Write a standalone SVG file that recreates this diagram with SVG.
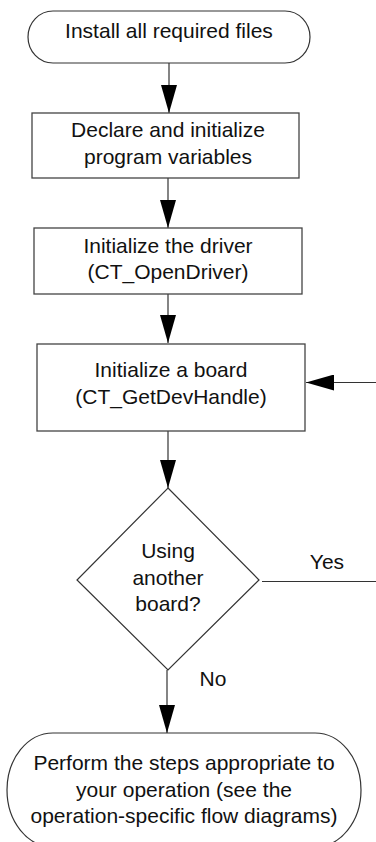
<svg xmlns="http://www.w3.org/2000/svg" width="376" height="842" viewBox="0 0 376 842">
  <style>
    .shape { fill: #ffffff; stroke: #333333; stroke-width: 1.2; }
    .box { fill: #ffffff; stroke: #444444; stroke-width: 1.3; }
    .line { fill: none; stroke: #333333; stroke-width: 1.2; }
    .label { font-family: "Liberation Sans", Arial, Helvetica, sans-serif; font-size: 21px; fill: #111111; text-anchor: middle; }
  </style>
  <defs>
    <marker id="arrowhead" viewBox="0 0 28 16" refX="28" refY="8" markerWidth="28" markerHeight="16" markerUnits="userSpaceOnUse" orient="auto">
      <path d="M0,0 L28,8 L0,16 Z" fill="#000000"/>
    </marker>
  </defs>
  <rect width="376" height="842" fill="#ffffff"/>

  <g id="connectors">
    <line class="line" x1="169" y1="63" x2="169" y2="113" marker-end="url(#arrowhead)"/>
    <line class="line" x1="168" y1="178" x2="168" y2="228" marker-end="url(#arrowhead)"/>
    <line class="line" x1="168" y1="294" x2="168" y2="343" marker-end="url(#arrowhead)"/>
    <line class="line" x1="168" y1="431" x2="168" y2="488" marker-end="url(#arrowhead)"/>
    <line class="line" x1="167" y1="670" x2="167" y2="733" marker-end="url(#arrowhead)"/>
    <!-- "Yes" branch leaves to the right; the return enters the board step from the right -->
    <line class="line" x1="262" y1="581.5" x2="376" y2="581.5"/>
    <line class="line" x1="376" y1="382.5" x2="306" y2="382.5" marker-end="url(#arrowhead)"/>
    <text class="label" x="327" y="569">Yes</text>
    <text class="label" x="213" y="686">No</text>
  </g>

  <g id="install-files">
    <rect class="shape" x="28" y="11" width="282" height="52" rx="25" ry="26"/>
    <text class="label" x="169" y="38">Install all required files</text>
  </g>

  <g id="declare-variables">
    <rect class="box" x="32" y="113" width="267" height="65"/>
    <text class="label" x="168" y="137">Declare and initialize</text>
    <text class="label" x="168" y="164">program variables</text>
  </g>

  <g id="open-driver">
    <rect class="box" x="34" y="228" width="268" height="66"/>
    <text class="label" x="168" y="253">Initialize the driver</text>
    <text class="label" x="168" y="279">(CT_OpenDriver)</text>
  </g>

  <g id="get-dev-handle">
    <rect class="box" x="37" y="344" width="268" height="87"/>
    <text class="label" x="171" y="377">Initialize a board</text>
    <text class="label" x="171" y="404">(CT_GetDevHandle)</text>
  </g>

  <g id="another-board">
    <polygon class="shape" points="168,488 259,580 168,670 77,580"/>
    <text class="label" x="168" y="558">Using</text>
    <text class="label" x="168" y="585">another</text>
    <text class="label" x="168" y="611">board?</text>
  </g>

  <g id="perform-steps">
    <rect class="shape" x="7" y="733" width="354" height="114" rx="46" ry="57"/>
    <text class="label" x="184" y="770">Perform the steps appropriate to</text>
    <text class="label" x="184" y="797">your operation (see the</text>
    <text class="label" x="184" y="823">operation-specific flow diagrams)</text>
  </g>
</svg>
